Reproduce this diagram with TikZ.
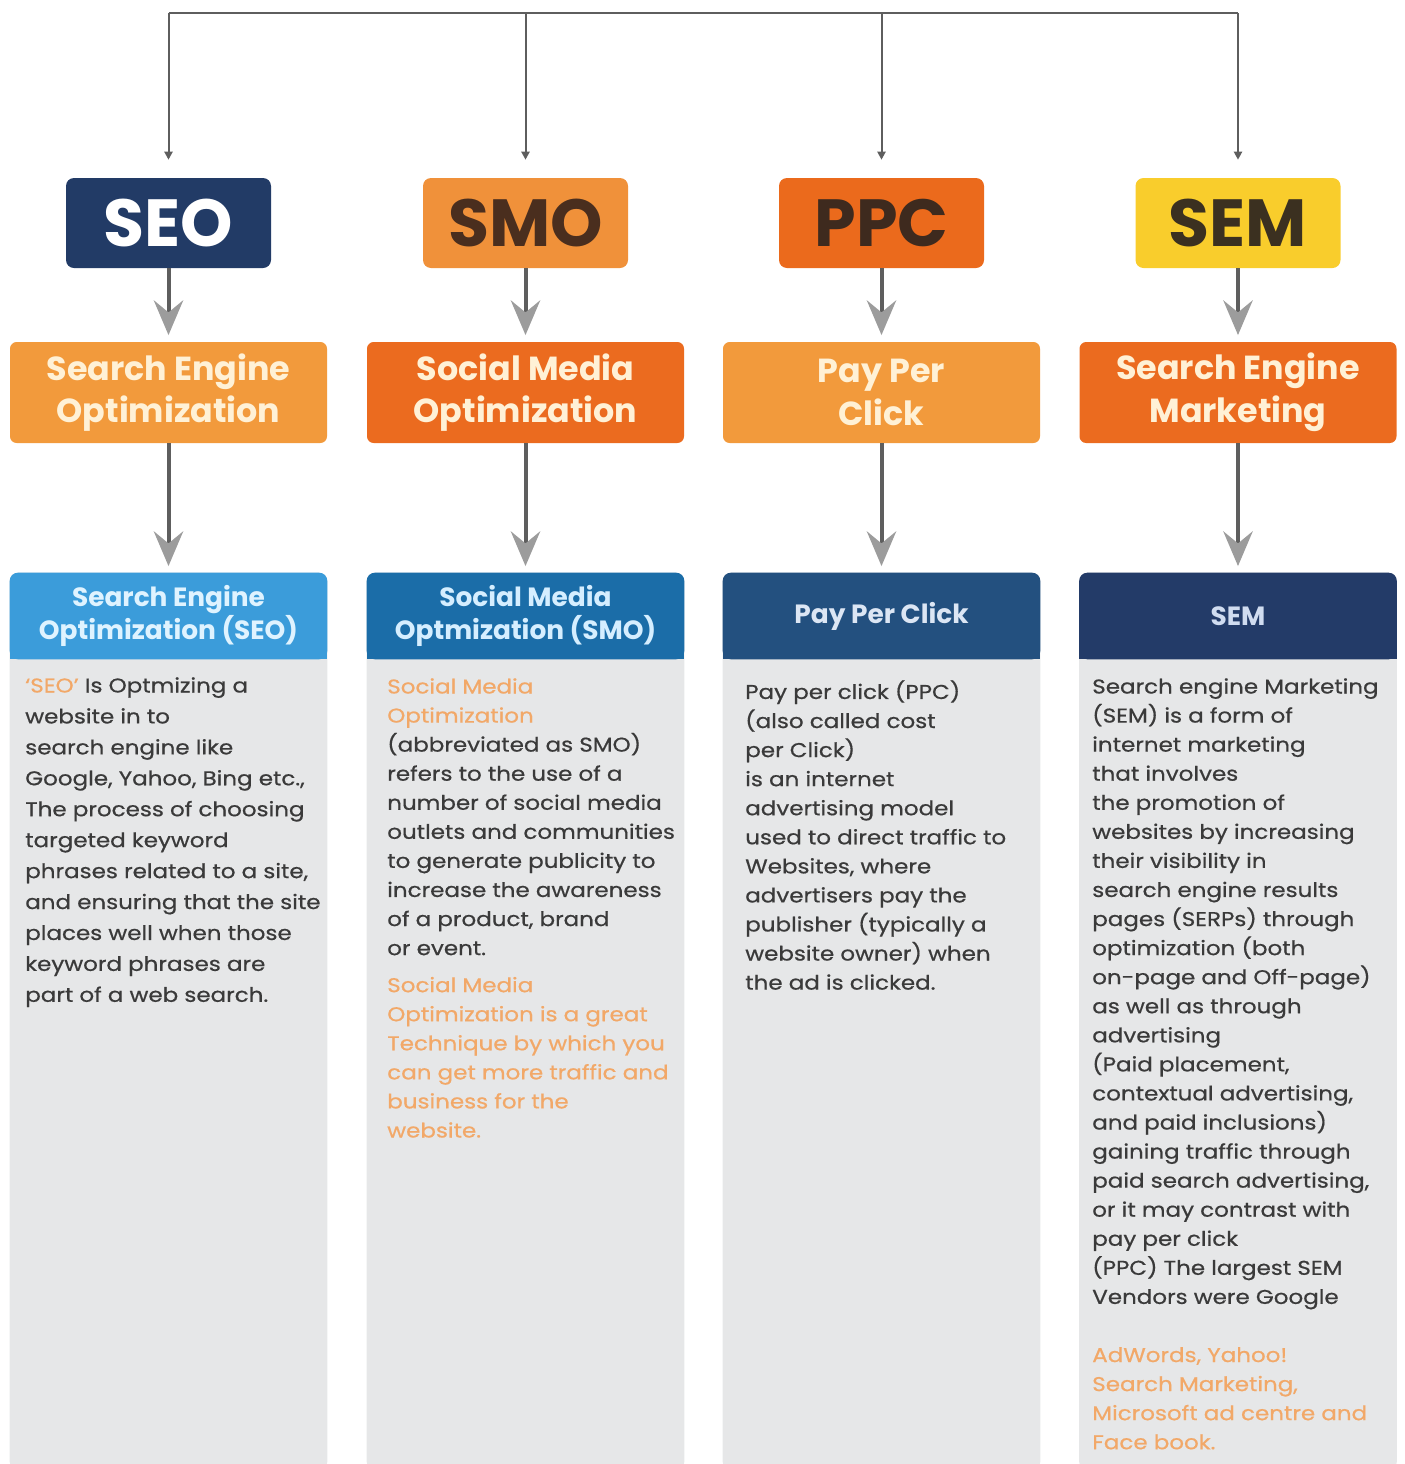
\documentclass[tikz,border=0pt]{standalone}
\usepackage{fontspec}
\setmainfont{Poppins}
\newfontfamily\bodyfont{Poppins}[FakeStretch=1.15,FakeBold=0.6]
\usetikzlibrary{arrows.meta,backgrounds}

\definecolor{seoNavy}{HTML}{223B66}
\definecolor{smoOrange}{HTML}{F0913A}
\definecolor{ppcOrange}{HTML}{EB6A1C}
\definecolor{semYellow}{HTML}{F9CD2C}
\definecolor{lightOrange}{HTML}{F29A3C}
\definecolor{darkOrange}{HTML}{EB6B1F}
\definecolor{seoBlue}{HTML}{3B9CDA}
\definecolor{smoBlue}{HTML}{1B6DA8}
\definecolor{ppcBlue}{HTML}{23507F}
\definecolor{semBlue}{HTML}{233B68}
\definecolor{bodyGray}{HTML}{E6E7E8}
\definecolor{bodyInk}{HTML}{3A3A3A}
\definecolor{softOrange}{HTML}{F2A868}
\definecolor{nameInk}{HTML}{FFF1D6}
\definecolor{lineGray}{HTML}{5E5E5E}
\definecolor{headGray}{HTML}{9C9C9C}

\tikzstyle{abbr} = [rounded corners=6pt, minimum width=153.75pt, minimum height=67.5pt, inner sep=0pt, font=\fontsize{50}{54}\selectfont\bfseries]
\tikzstyle{fullname} = [rounded corners=5pt, minimum width=237.75pt, minimum height=75.75pt, inner sep=0pt, align=center, text=nameInk, font=\fontsize{25}{32}\selectfont\bfseries]
\tikzstyle{header} = [minimum width=237.75pt, minimum height=64.5pt, inner sep=0pt, align=center, font=\fontsize{19.8}{25}\selectfont\bfseries]
\tikzstyle{bodytext} = [anchor=north west, inner sep=0pt, align=left, text=bodyInk, font=\bodyfont\fontsize{15}{21.8}\selectfont]
\tikzstyle{feed} = [line width=1.5pt, draw=lineGray, -{Triangle[length=6pt,width=6pt]}, shorten >=13.5pt]
\tikzstyle{flow} = [line width=3pt, draw=lineGray, -{Stealth[length=26pt,width=22pt,inset=9pt,color=headGray]}, shorten >=5pt]

\begin{document}
\begin{tikzpicture}[x=0.75pt,y=0.75pt,yscale=-1,xscale=1]
\useasboundingbox (0,0) rectangle (1405,1464);

\coordinate (bus) at (0,13);
\coordinate (bottom) at (0,1470);

% Top row
\node[abbr, fill=seoNavy, text=white] (seo) at (168.5,223) {SEO};
\node[abbr, fill=smoOrange, text={rgb,255:red,74;green,46;blue,30}] (smo) at (525.5,223) {SMO};
\node[abbr, fill=ppcOrange, text={rgb,255:red,62;green,42;blue,30}] (ppc) at (881.5,223) {PPC};
\node[abbr, fill=semYellow, text={rgb,255:red,59;green,48;blue,32}] (sem) at (1238,223) {SEM};

% Full names
\node[fullname, fill=lightOrange] (seoName) at (168.5,392.5) {Search Engine\\Optimization};
\node[fullname, fill=darkOrange] (smoName) at (525.5,392.5) {Social Media\\Optimization};
\node[fullname, fill=lightOrange] (ppcName) at (881.5,392.5) {Pay Per\\Click};
\node[fullname, fill=darkOrange] (semName) at (1238,392.5) {Search Engine\\Marketing};

% Column headers
\node[header, text={rgb,255:red,223;green,243;blue,255}] (seoHead) at (168.5,616) {Search Engine\\Optimization (SEO)};
\node[header, text={rgb,255:red,213;green,238;blue,255}] (smoHead) at (525.5,616) {Social Media\\Optmization (SMO)};
\node[header, text={rgb,255:red,220;green,230;blue,244}] (ppcHead) at (881.5,616) {Pay Per Click};
\node[header, text={rgb,255:red,208;green,220;blue,240}] (semHead) at (1238,616) {SEM};

\begin{scope}[on background layer]
\foreach \col/\tint in {seo/seoBlue,smo/smoBlue,ppc/ppcBlue,sem/semBlue}{
  \fill[bodyGray, rounded corners=6pt] (\col Head.north west) rectangle (\col Head.east |- bottom);
  \fill[\tint, rounded corners=6pt] (\col Head.north west) rectangle (\col Head.south east);
  \fill[\tint] (\col Head.west) rectangle (\col Head.south east);
}
\end{scope}

% Connectors
\draw[line width=1.5pt, lineGray] (seo.north |- bus) -- (sem.north |- bus);
\foreach \col in {seo,smo,ppc,sem}{
  \draw[feed] (\col.north |- bus) -- (\col.north);
  \draw[flow] (\col.south) -- (\col Name.north);
  \draw[flow] (\col Name.south) -- (\col Head.north);
}

% Text Node
\node[bodytext, font=\bodyfont\fontsize{15}{23.2}\selectfont] (seoText) at (25,677) {\textcolor{softOrange}{‘SEO’} Is Optmizing a\\
website in to\\
search engine like\\
Google, Yahoo, Bing etc.,\\
The process of choosing\\
targeted keyword\\
phrases related to a site,\\
and ensuring that the site\\
places well when those\\
keyword phrases are\\
part of a web search.};

% Text Node
\node[bodytext] (smoText) at (387,678) {\textcolor{softOrange}{Social Media}\\
\textcolor{softOrange}{Optimization}\\
(abbreviated as SMO)\\
refers to the use of a\\
number of social media\\
outlets and communities\\
to generate publicity to\\
increase the awareness\\
of a product, brand\\
or event.\\[6pt]
\textcolor{softOrange}{Social Media}\\
\textcolor{softOrange}{Optimization is a great}\\
\textcolor{softOrange}{Technique by which you}\\
\textcolor{softOrange}{can get more traffic and}\\
\textcolor{softOrange}{business for the}\\
\textcolor{softOrange}{website.}};

% Text Node
\node[bodytext] (ppcText) at (745,680) {Pay per click (PPC)\\
(also called cost\\
per Click)\\
is an internet\\
advertising model\\
used to direct traffic to\\
Websites, where\\
advertisers pay the\\
publisher (typically a\\
website owner) when\\
the ad is clicked.};

% Text Node
\node[bodytext] (semText) at (1092,678) {Search engine Marketing\\
(SEM) is a form of\\
internet marketing\\
that involves\\
the promotion of\\
websites by increasing\\
their visibility in\\
search engine results\\
pages (SERPs) through\\
optimization (both\\
on-page and Off-page)\\
as well as through\\
advertising\\
(Paid placement,\\
contextual advertising,\\
and paid inclusions)\\
gaining traffic through\\
paid search advertising,\\
or it may contrast with\\
pay per click\\
(PPC) The largest SEM\\
Vendors were Google\\[21.8pt]
\textcolor{softOrange}{AdWords, Yahoo!}\\
\textcolor{softOrange}{Search Marketing,}\\
\textcolor{softOrange}{Microsoft ad centre and}\\
\textcolor{softOrange}{Face book.}};

\end{tikzpicture}
\end{document}
